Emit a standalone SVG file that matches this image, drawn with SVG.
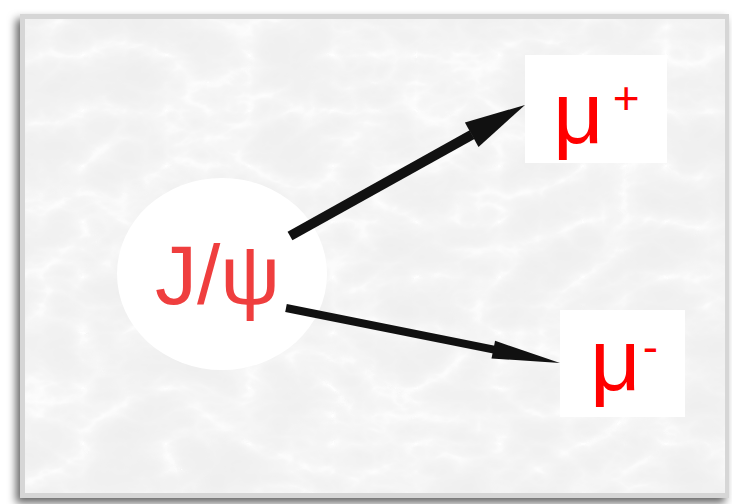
<svg xmlns="http://www.w3.org/2000/svg" width="732" height="504" viewBox="0 0 732 504">
  <defs>
    <!-- soft drop shadow under the framed panel -->
    <filter id="panelShadow" x="-10%" y="-10%" width="120%" height="120%">
      <feDropShadow dx="-4" dy="5" stdDeviation="4" flood-color="#000" flood-opacity="0.6"/>
    </filter>
    <!-- light grey marble texture with thin white veins -->
    <filter id="marble" x="0" y="0" width="100%" height="100%">
      <feTurbulence type="turbulence" baseFrequency="0.012 0.018" numOctaves="4" seed="11" result="t"/>
      <feColorMatrix in="t" type="matrix" result="g"
        values="1 0 0 0 0
                1 0 0 0 0
                1 0 0 0 0
                0 0 0 0 1"/>
      <feComponentTransfer in="g">
        <feFuncR type="table" tableValues="0.99 0.92 0.89 0.875 0.865 0.86"/>
        <feFuncG type="table" tableValues="0.99 0.92 0.89 0.875 0.865 0.86"/>
        <feFuncB type="table" tableValues="0.99 0.92 0.89 0.875 0.865 0.86"/>
      </feComponentTransfer>
    </filter>
    <style>
      .label { font-family: "Liberation Sans", Arial, sans-serif; }
      .psi { fill: #ef3e3e; font-size: 84px; }
      .mu { fill: #ff0000; font-size: 88px; }
      .sup { font-size: 46px; }
      .shaft { stroke: #111; stroke-linecap: butt; fill: none; }
      .head { fill: #111; }
      .node-bg { fill: #ffffff; }
    </style>
  </defs>

  <rect width="732" height="504" fill="#ffffff"/>

  <!-- framed panel -->
  <g id="panel">
    <rect x="20" y="14" width="709" height="484" fill="#d6d6d6" filter="url(#panelShadow)"/>
    <rect x="25" y="19" width="700" height="474" fill="#e4e4e4"/>
    <rect x="25" y="19" width="700" height="474" filter="url(#marble)"/>
  </g>

  <g id="jpsi">
    <ellipse class="node-bg" cx="222" cy="274" rx="105" ry="96"/>
    <text class="label psi" x="155" y="304">J/ψ</text>
  </g>

  <g id="mu-plus">
    <rect class="node-bg" x="525" y="55" width="142" height="108"/>
    <text class="label mu" x="553" y="143">μ<tspan class="sup" dx="9" dy="-29">+</tspan></text>
  </g>

  <g id="mu-minus">
    <rect class="node-bg" x="560" y="310" width="125" height="107"/>
    <text class="label mu" x="590" y="390">μ<tspan class="sup" dx="2" dy="-27">-</tspan></text>
  </g>

  <!-- decay arrows, drawn over the nodes -->
  <g id="connectors">
    <line class="shaft" x1="290" y1="236" x2="472" y2="134.7" stroke-width="10"/>
    <polygon class="head" points="525,105 478.5,146.9 464.9,122.5"/>
    <line class="shaft" x1="286" y1="308" x2="494" y2="349.6" stroke-width="8"/>
    <polygon class="head" points="560,363 491.5,358.4 495.1,340.8"/>
  </g>
</svg>
